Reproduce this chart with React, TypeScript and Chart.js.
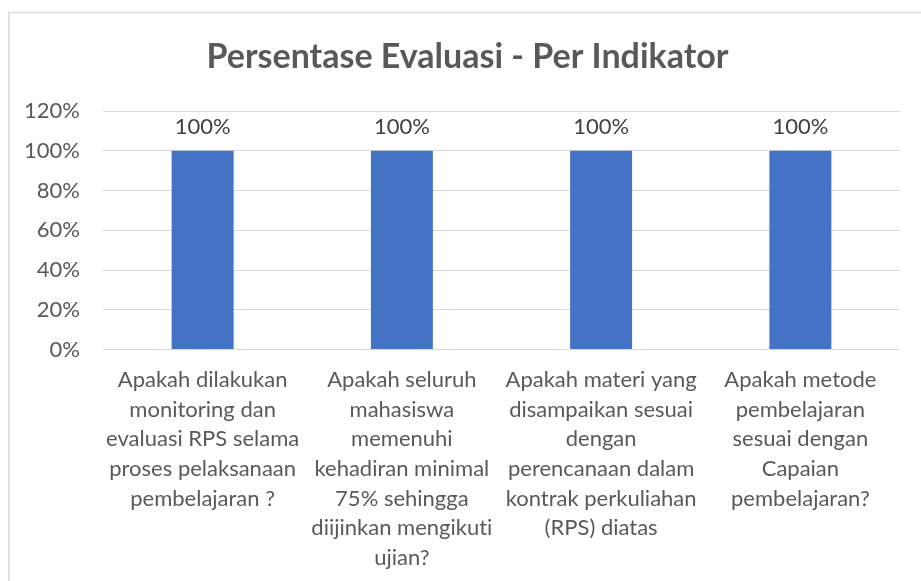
import React, { useEffect, useRef } from "react";
import { Chart, registerables } from "chart.js";

Chart.register(...registerables);

const titleText = "Persentase Evaluasi - Per Indikator";
const categories: string[][] = [
  ["Apakah dilakukan", "monitoring dan", "evaluasi RPS selama", "proses pelaksanaan", "pembelajaran ?"],
  ["Apakah seluruh", "mahasiswa", "memenuhi", "kehadiran minimal", "75% sehingga", "diijinkan mengikuti", "ujian?"],
  ["Apakah materi yang", "disampaikan sesuai", "dengan", "perencanaan dalam", "kontrak perkuliahan", "(RPS) diatas"],
  ["Apakah metode", "pembelajaran", "sesuai dengan", "Capaian", "pembelajaran?"],
];
const values: number[] = [100, 100, 100, 100];
const yMin = 0;
const yMax = 120;
const yStep = 20;

const FONT = "Lato";

const framePlugin = {
  id: "frame",
  beforeDraw(chart: any) {
    const ctx = chart.ctx;
    try {
      (ctx as any).textRendering = "optimizeSpeed";
    } catch (e) {}
    ctx.save();
    ctx.fillStyle = "#ffffff";
    ctx.fillRect(0, 0, chart.width, chart.height);
    ctx.strokeStyle = "#d9d9d9";
    ctx.lineWidth = 1.5;
    ctx.strokeRect(9, 12.5, chart.width + 20, chart.height + 20);
    ctx.restore();
  },
};

const titlePlugin = {
  id: "customTitle",
  afterDraw(chart: any) {
    const ctx = chart.ctx;
    ctx.save();
    ctx.font = `bold 34px ${FONT}`;
    ctx.fillStyle = "#595959";
    ctx.textAlign = "center";
    ctx.textBaseline = "alphabetic";
    ctx.fillText(titleText, 467.5, 67.5);
    ctx.restore();
  },
};

const dataLabelPlugin = {
  id: "dataLabels",
  afterDatasetsDraw(chart: any) {
    const ctx = chart.ctx;
    ctx.save();
    ctx.font = `22px ${FONT}`;
    ctx.fillStyle = "#404040";
    ctx.textAlign = "center";
    ctx.textBaseline = "middle";
    chart.data.datasets.forEach((ds: any, di: number) => {
      const meta = chart.getDatasetMeta(di);
      meta.data.forEach((bar: any, i: number) => {
        ctx.fillText(`${ds.data[i]}%`, bar.x, bar.y - 24);
      });
    });
    ctx.restore();
  },
};

export default function App() {
  const ref = useRef<HTMLCanvasElement | null>(null);
  useEffect(() => {
    if (!ref.current) return;
    const chart = new Chart(ref.current, {
      type: "bar",
      data: {
        labels: categories,
        datasets: [
          {
            data: values,
            backgroundColor: "#4472C4",
            borderWidth: 0,
            categoryPercentage: 1,
            barPercentage: 0.311,
          },
        ],
      },
      options: {
        animation: false,
        responsive: false,
        devicePixelRatio: 1,
        layout: { padding: { left: 0, right: 21, top: 111, bottom: 0 } },
        plugins: {
          legend: { display: false },
          tooltip: { enabled: false },
          title: { display: false },
        },
        scales: {
          x: {
            grid: { display: false, drawTicks: false },
            border: { display: false },
            ticks: {
              color: "#595959",
              font: { family: FONT, size: 22, lineHeight: "29.7px" },
              padding: 15.5,
              maxRotation: 0,
              minRotation: 0,
              autoSkip: false,
            },
            afterFit(scale: any) {
              scale.height = 231.5;
            },
          },
          y: {
            min: yMin,
            max: yMax,
            grid: { color: "#d9d9d9", lineWidth: 1, drawTicks: false },
            border: { display: false },
            ticks: {
              stepSize: yStep,
              color: "#595959",
              font: { family: FONT, size: 22 },
              padding: 23,
              callback: (v: any) => `${v}%`,
            },
            afterFit(scale: any) {
              scale.width = 103;
            },
          },
        },
      },
      plugins: [framePlugin, dataLabelPlugin, titlePlugin],
    });
    return () => chart.destroy();
  }, []);
  return (
    <div style={{ position: "fixed", left: 0, top: 0, width: 921, height: 581, overflow: "hidden", background: "#fff" }}>
      <canvas ref={ref} width={921} height={581} style={{ display: "block", width: 921, height: 581 }} />
    </div>
  );
}
